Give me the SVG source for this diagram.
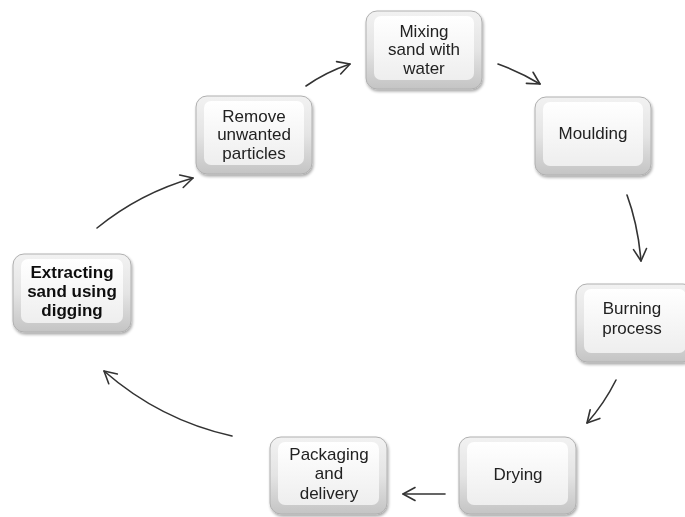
<svg xmlns="http://www.w3.org/2000/svg" width="685" height="517" viewBox="0 0 685 517">
<defs>
<linearGradient id="outer" x1="0" y1="0" x2="0" y2="1">
<stop offset="0" stop-color="#f2f2f2"/>
<stop offset="0.5" stop-color="#e4e4e4"/>
<stop offset="1" stop-color="#c4c4c4"/>
</linearGradient>
<linearGradient id="inner" x1="0" y1="0" x2="0" y2="1">
<stop offset="0" stop-color="#ffffff"/>
<stop offset="1" stop-color="#eeeeee"/>
</linearGradient>
<filter id="sh" x="-10%" y="-10%" width="125%" height="130%">
<feGaussianBlur in="SourceAlpha" stdDeviation="1.5"/>
<feOffset dx="1" dy="2" result="b"/>
<feComponentTransfer><feFuncA type="linear" slope="0.35"/></feComponentTransfer>
<feMerge><feMergeNode/><feMergeNode in="SourceGraphic"/></feMerge>
</filter>
<marker id="ah" viewBox="0 0 16 16" refX="14" refY="8" markerWidth="16" markerHeight="16" markerUnits="userSpaceOnUse" orient="auto">
<path d="M2,1.5 L14,8 L2,14.5" fill="none" stroke="#333" stroke-width="1.6" stroke-linecap="round" stroke-linejoin="round"/>
</marker>
</defs>
<style>
.o{fill:url(#outer);stroke:#b0b0b0;stroke-width:1}
.i{fill:url(#inner);stroke:none}
.t{font-family:"Liberation Sans",Arial,sans-serif;font-size:17px;fill:#222;text-anchor:middle}
.b{font-weight:bold;fill:#111}
.c{fill:none;stroke:#333;stroke-width:1.6;stroke-linecap:round;marker-end:url(#ah)}
</style>
<rect width="685" height="517" fill="#ffffff"/>
<g id="connectors">
<path class="c" d="M306,86 Q326,72 350,64"/>
<path class="c" d="M498,64 Q520,72 540,84"/>
<path class="c" d="M627,195 Q638,225 641,261"/>
<path class="c" d="M616,380 Q604,404 587,423"/>
<path class="c" d="M445,494 L403,494"/>
<path class="c" d="M232,436 Q160,420 104,371"/>
<path class="c" d="M97,228 Q140,193 193,178"/>
</g>
<g id="mixing" filter="url(#sh)">
<rect class="o" x="366" y="11" width="116" height="78" rx="11"/>
<rect class="i" x="374" y="16" width="100" height="64" rx="7"/>
<text class="t" x="424" y="37">Mixing</text>
<text class="t" x="424" y="55">sand with</text>
<text class="t" x="424" y="74">water</text>
</g>
<g id="remove" filter="url(#sh)">
<rect class="o" x="196" y="96" width="116" height="78" rx="11"/>
<rect class="i" x="204" y="101" width="100" height="64" rx="7"/>
<text class="t" x="254" y="122">Remove</text>
<text class="t" x="254" y="140">unwanted</text>
<text class="t" x="254" y="159">particles</text>
</g>
<g id="moulding" filter="url(#sh)">
<rect class="o" x="535" y="97" width="116" height="78" rx="11"/>
<rect class="i" x="543" y="102" width="100" height="64" rx="7"/>
<text class="t" x="593" y="139">Moulding</text>
</g>
<g id="extracting" filter="url(#sh)">
<rect class="o" x="13" y="254" width="118" height="78" rx="11"/>
<rect class="i" x="21" y="259" width="102" height="64" rx="7"/>
<text class="t b" x="72" y="278">Extracting</text>
<text class="t b" x="72" y="297">sand using</text>
<text class="t b" x="72" y="316">digging</text>
</g>
<g id="burning" filter="url(#sh)">
<rect class="o" x="576" y="284" width="118" height="78" rx="11"/>
<rect class="i" x="584" y="289" width="102" height="64" rx="7"/>
<text class="t" x="632" y="314">Burning</text>
<text class="t" x="632" y="334">process</text>
</g>
<g id="packaging" filter="url(#sh)">
<rect class="o" x="270" y="437" width="117" height="77" rx="11"/>
<rect class="i" x="278" y="442" width="101" height="63" rx="7"/>
<text class="t" x="329" y="460">Packaging</text>
<text class="t" x="329" y="479">and</text>
<text class="t" x="329" y="499">delivery</text>
</g>
<g id="drying" filter="url(#sh)">
<rect class="o" x="459" y="437" width="117" height="77" rx="11"/>
<rect class="i" x="467" y="442" width="101" height="63" rx="7"/>
<text class="t" x="518" y="480">Drying</text>
</g>
</svg>
